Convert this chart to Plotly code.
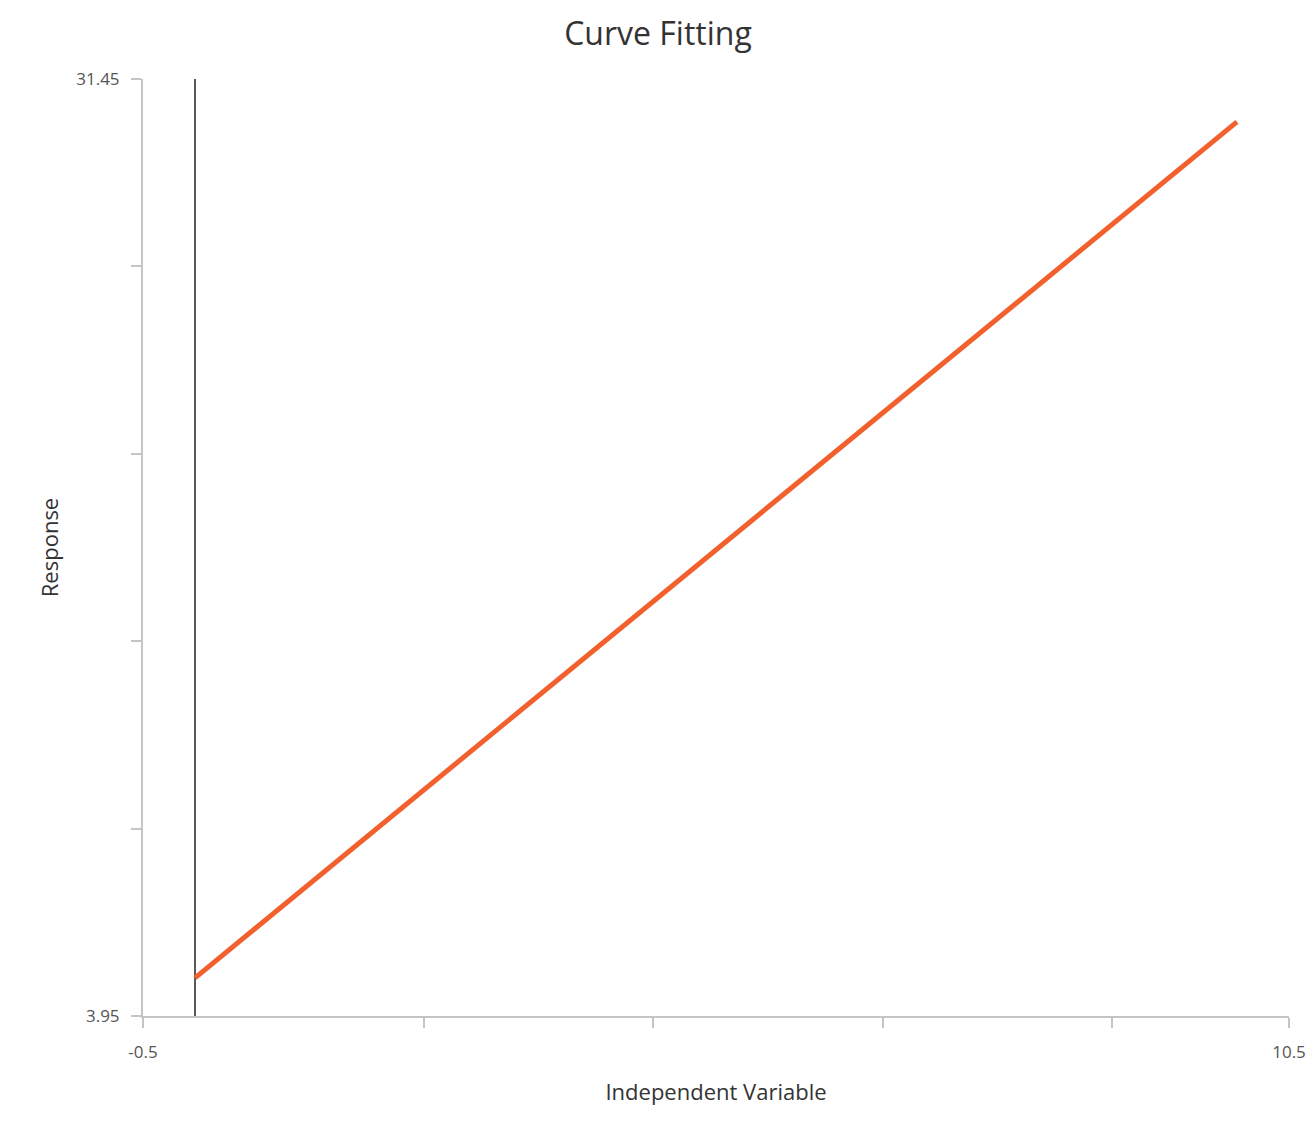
import plotly.graph_objects as go

x_vals = [0, 1, 2, 3, 4, 5, 6, 7, 8, 9, 10]
y_vals = [5.07, 7.58, 10.09, 12.61, 15.12, 17.63, 20.14, 22.65, 25.17, 27.68, 30.19]

x_ticks = [-0.5, 2.2, 4.4, 6.6, 8.8, 10.5]
x_ticktext = ["-0.5", "", "", "", "", "10.5"]
y_ticks = [3.95, 9.45, 14.95, 20.45, 25.95, 31.45]
y_ticktext = ["3.95", "", "", "", "", "31.45"]

font_family = "Open Sans, Noto Sans, sans-serif"

fig = go.Figure()
fig.add_trace(go.Scatter(
    x=x_vals, y=y_vals, mode="lines",
    line=dict(color="#F2602E", width=5),
    showlegend=False, hoverinfo="x+y",
))

fig.update_layout(
    width=1300, height=1120,
    margin=dict(l=135, r=19, t=71, b=112),
    paper_bgcolor="white", plot_bgcolor="white",
    title=dict(text="Curve Fitting", x=0.5, xanchor="center", y=0.977, yanchor="middle",
               font=dict(family=font_family, size=32, color="#333333")),
    font=dict(family=font_family, color="#555555"),
    xaxis=dict(
        range=[-0.5, 10.5], tickmode="array", tickvals=x_ticks, ticktext=x_ticktext,
        showgrid=False, zeroline=True, zerolinecolor="#5a5a5a", zerolinewidth=2,
        showline=True, linecolor="#c4c4c4", linewidth=2,
        ticks="outside", ticklen=10, tickwidth=2, tickcolor="#c4c4c4",
        ticklabelstandoff=10, automargin=False,
        tickfont=dict(size=17, color="#555555"),
        title=dict(text="Independent Variable", font=dict(size=22, color="#333333"), standoff=22),
    ),
    yaxis=dict(
        range=[3.95, 31.45], tickmode="array", tickvals=y_ticks, ticktext=y_ticktext,
        showgrid=False, zeroline=False,
        showline=True, linecolor="#c4c4c4", linewidth=2,
        ticks="outside", ticklen=10, tickwidth=2, tickcolor="#c4c4c4",
        ticklabelstandoff=8, automargin=False,
        tickfont=dict(size=17, color="#555555"),
        title=dict(text="Response", font=dict(size=22, color="#333333"), standoff=12),
    ),
)

fig.write_html("out.html")
